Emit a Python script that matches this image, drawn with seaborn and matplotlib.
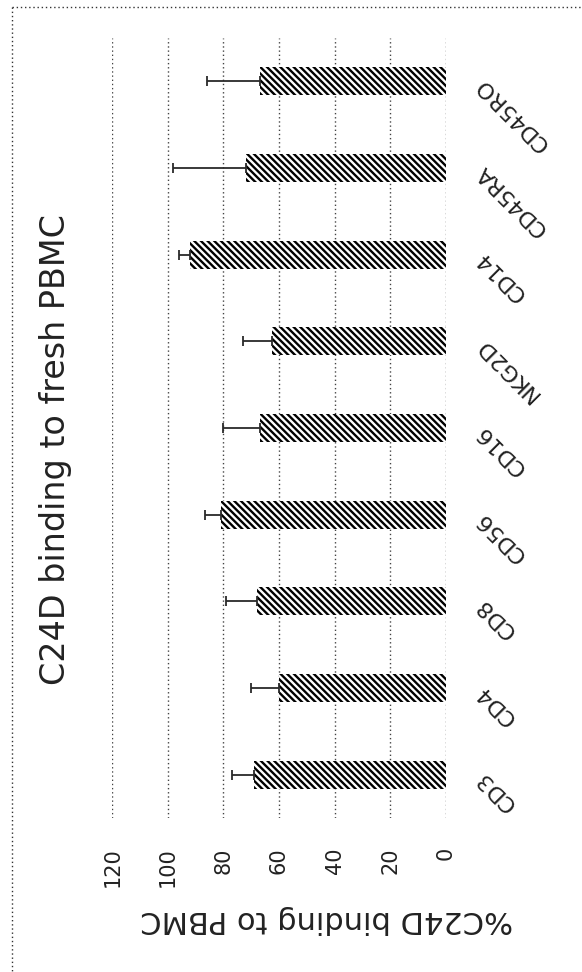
import matplotlib
matplotlib.use("Agg")
import matplotlib.pyplot as plt
from matplotlib.lines import Line2D
import seaborn as sns
import numpy as np

# Percent of each PBMC subset bound by C24D (mean and upper SD)
categories = ["CD3", "CD4", "CD8", "CD56", "CD16", "NKG2D", "CD14", "CD45RA", "CD45RO"]
binding = [69, 60, 68, 81, 67, 62.5, 92, 72, 67]
sd = [8, 10, 11, 5.5, 13, 10.5, 4, 26, 19]
value_ticks = [0, 20, 40, 60, 80, 100, 120]

title = "C24D binding to fresh PBMC"
value_label = "%C24D binding to PBMC"

HATCH = "\\" * 5

sns.set_theme(style="white")
plt.rcParams["font.family"] = ["DejaVu Sans"]
plt.rcParams["hatch.linewidth"] = 1.7
plt.rcParams["hatch.color"] = "black"

W, H = 582, 972
fig = plt.figure(figsize=(W / 100, H / 100), dpi=100)
fig.patch.set_facecolor("white")

left, right, top, bottom = 112.3, 445.7, 38, 818
ax = fig.add_axes([left / W, 1 - bottom / H, (right - left) / W, (bottom - top) / H])

order = categories[::-1]
sns.barplot(x=binding, y=categories, order=order, orient="h", errorbar=None,
            width=0.32, color="white", edgecolor="black", linewidth=0,
            hatch=HATCH, ax=ax, zorder=2)
for p in ax.patches:
    p.set_facecolor("white")
    p.set_hatch(HATCH)

ypos = [order.index(c) for c in categories]
ax.errorbar(binding, ypos, xerr=[np.zeros(len(sd)), sd], fmt="none",
            ecolor="#2a2a2a", elinewidth=1.3, capsize=3.3, capthick=1.3, zorder=3)

ax.set_xlim(120, 0)
ax.set_ylim(8.5, -0.5)
ax.set_xticks(value_ticks)
ax.set_xticklabels([str(v) for v in value_ticks])
ax.set_axisbelow(True)
ax.xaxis.grid(True, linestyle=(0, (1, 2)), color="#444444", linewidth=1.0)
ax.yaxis.grid(False)
for s in ax.spines.values():
    s.set_visible(False)

ax.set_xlabel("")
ax.set_ylabel("")
ax.tick_params(axis="x", length=0, pad=21, labelsize=15, labelcolor="#222222",
               labelrotation=90)
for t in ax.get_xticklabels():
    t.set_verticalalignment("top")
    t.set_horizontalalignment("center")

ax.yaxis.tick_right()
ax.tick_params(axis="y", length=0, pad=24, labelsize=16, labelcolor="#222222")
for t in ax.get_yticklabels():
    t.set_rotation(135)
    t.set_rotation_mode("anchor")
    t.set_horizontalalignment("right")
    t.set_verticalalignment("center")

fig.text(56 / W, 1 - 450 / H, title, rotation=90, ha="center", va="center",
         fontsize=24, color="#222222")
fig.text(327 / W, 1 - 919 / H, value_label, rotation=180, ha="center", va="center",
         fontsize=22, color="#222222")

# dotted frame along the top and left edges
fig.add_artist(Line2D([12 / W, 1.0], [1 - 7 / H, 1 - 7 / H], transform=fig.transFigure,
                      linestyle=(0, (1, 2)), color="#333333", linewidth=1.0))
fig.add_artist(Line2D([12 / W, 12 / W], [1 - 7 / H, 0.0], transform=fig.transFigure,
                      linestyle=(0, (1, 2)), color="#333333", linewidth=1.0))

fig.savefig("out.png", dpi=100, facecolor="white")
